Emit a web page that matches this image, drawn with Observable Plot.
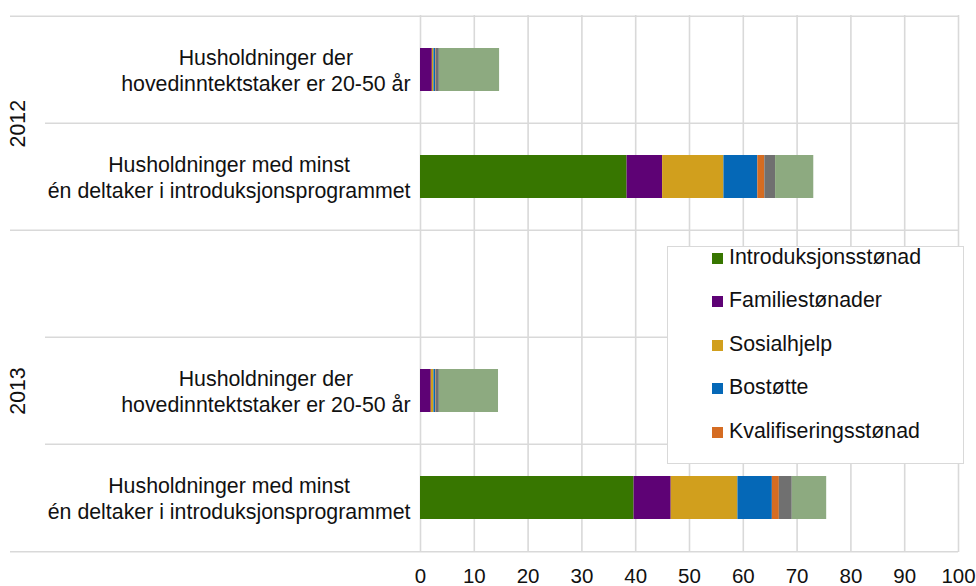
<!DOCTYPE html>
<html><head><meta charset="utf-8">
<script src="https://cdn.jsdelivr.net/npm/d3@7"></script>
<script src="https://cdn.jsdelivr.net/npm/@observablehq/plot@0.6"></script>
<style>
body{margin:0;background:#fff;font-family:"Liberation Sans",Arial,sans-serif;}
#wrap{position:relative;width:976px;height:586px;overflow:hidden;}
#legend{position:absolute;left:667px;top:246px;width:297px;height:218px;border:1.5px solid #d9d9d9;background:#fff;box-sizing:border-box;}
.li{position:absolute;left:44px;height:24px;line-height:24px;font-size:21.33px;color:#111;white-space:nowrap;}
.sw{display:inline-block;width:11px;height:11px;margin-right:6px;vertical-align:0px;}
</style></head><body><div id="wrap"></div><script>
// ---- data ----
const rows = ["2012-a", "2012-b", "2013-blank", "2013-a", "2013-b"];
const rowYear = ["2012", "2012", "2013", "2013", "2013"];
const rowLabel = [
  "Husholdninger der\nhovedinntektstaker er 20-50 år",
  "Husholdninger med minst\nén deltaker i introduksjonsprogrammet",
  "",
  "Husholdninger der\nhovedinntektstaker er 20-50 år",
  "Husholdninger med minst\nén deltaker i introduksjonsprogrammet"
];
const years = ["2012", "2013"];
const series = ["Introduksjonsstønad", "Familiestønader", "Sosialhjelp", "Bostøtte", "Kvalifiseringsstønad", "Dagpenger", "Andre overføringer"];
const seriesColors = ["#377600", "#5e0275", "#d19f1d", "#0568b7", "#d56c22", "#707070", "#8daa80"];
const introduksjonsstonad = [0, 38.4, null, 0, 39.7];
const familiestonader     = [2.2, 6.6, null, 2.0, 6.9];
const sosialhjelp         = [0.3, 11.4, null, 0.5, 12.4];
const bostotte            = [0.3, 6.3, null, 0.3, 6.4];
const kvalifisering       = [0.1, 1.3, null, 0.1, 1.3];
const dagpenger           = [0.6, 2.0, null, 0.6, 2.4];
const andre               = [11.2, 7.1, null, 11.0, 6.4];
const xTicks = [0, 10, 20, 30, 40, 50, 60, 70, 80, 90, 100];
const legendEntries = series.slice(0, 5);

// ---- build table ----
const values = [introduksjonsstonad, familiestonader, sosialhjelp, bostotte, kvalifisering, dagpenger, andre];
const data = [];
rows.forEach((r, i) => series.forEach((s, k) => {
  if (values[k][i] != null) data.push({row: r, series: s, value: values[k][i]});
}));

// ---- layout ----
const W = 976, H = 586, mL = 420, mR = 18, mT = 15, mB = 34;
const pInner = 0.6, pOuter = 0.3;
const step = (H - mT - mB) / (rows.length - pInner + 2 * pOuter);
const FONT = 21.33;
const grid = "#d9d9d9";

const ctx = document.createElement("canvas").getContext("2d");
ctx.font = `${FONT}px "Liberation Sans"`;
const labelMarks = [];
rows.forEach((r, i) => {
  if (!rowLabel[i]) return;
  const w = d3.max(rowLabel[i].split("\n"), l => ctx.measureText(l).width);
  labelMarks.push(Plot.text([r], {y: d => d, x: () => 0, text: () => rowLabel[i], dx: -10 - w / 2, dy: 0,
    textAnchor: "middle", lineHeight: 1.2, fontSize: FONT, fill: "#111"}));
});
const yearMarks = years.map(yr => {
  const idx = rows.map((r, i) => i).filter(i => rowYear[i] === yr);
  const mid = (idx[0] + idx[idx.length - 1]) / 2;
  const base = Math.floor(mid);
  return Plot.text([rows[base]], {y: d => d, x: () => 0, text: () => yr, dx: -(mL - 18), dy: (mid - base) * step,
    rotate: -90, textAnchor: "middle", fontSize: FONT, fill: "#111"});
});
// separator lines
const fullTop = rows.filter((r, i) => i === 0 || rowYear[i] !== rowYear[i - 1]);
const innerTop = rows.filter((r, i) => i > 0 && rowYear[i] === rowYear[i - 1]);

const chart = Plot.plot({
  width: W, height: H, marginLeft: mL, marginRight: mR, marginTop: mT, marginBottom: mB,
  style: {fontFamily: "Liberation Sans, Arial, sans-serif", background: "#fff"},
  x: {domain: [0, 100], axis: null},
  y: {domain: rows, paddingInner: pInner, paddingOuter: pOuter, axis: null},
  color: {domain: series, range: seriesColors},
  marks: [
    Plot.ruleX(xTicks, {x: d => d, stroke: grid, strokeWidth: 1.6}),
    Plot.ruleY(fullTop, {y: d => d, dy: -step / 2, insetLeft: -(mL - 10), stroke: grid, strokeWidth: 1.6}),
    Plot.ruleY(innerTop, {y: d => d, dy: -step / 2, insetLeft: -(mL - 45), stroke: grid, strokeWidth: 1.6}),
    Plot.ruleY([rows[rows.length - 1]], {y: d => d, dy: step / 2, insetLeft: -(mL - 10), stroke: grid, strokeWidth: 1.6}),
    Plot.barX(data, Plot.stackX({x: "value", y: "row", fill: "series"})),
    Plot.text(xTicks, {x: d => d, frameAnchor: "bottom", dy: 30, text: d => String(d), fontSize: 20.5, fill: "#111"}),
    ...labelMarks,
    ...yearMarks
  ]
});
const wrap = document.getElementById("wrap");
wrap.appendChild(chart);

// legend
const lg = document.createElement("div");
lg.id = "legend";
legendEntries.forEach((s, i) => {
  const it = document.createElement("div");
  it.className = "li";
  it.style.top = (11 + i * 43.6 - 12 - 1.5) + "px";
  const sw = document.createElement("span");
  sw.className = "sw";
  sw.style.background = seriesColors[series.indexOf(s)];
  it.appendChild(sw);
  it.appendChild(document.createTextNode(s));
  lg.appendChild(it);
});
wrap.appendChild(lg);
</script></body></html>
